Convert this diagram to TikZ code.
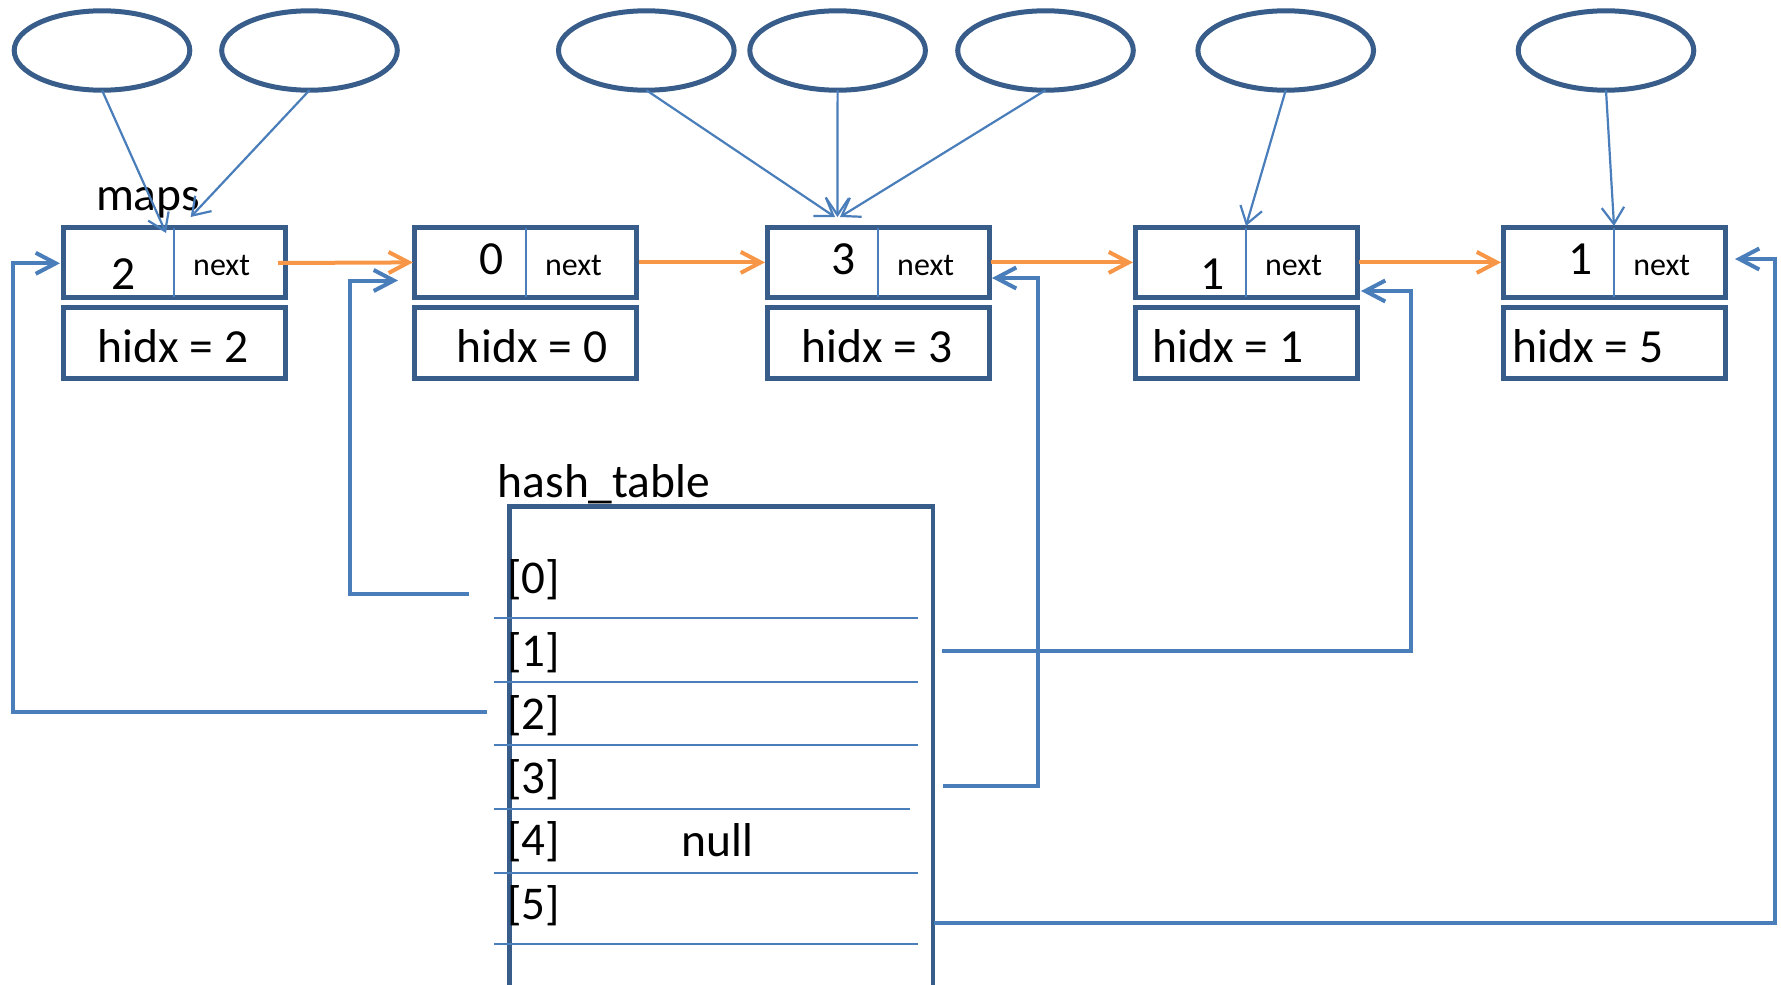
\documentclass[tikz,border=0pt]{standalone}
\usepackage{fontspec}
\setmainfont{Carlito}
\usetikzlibrary{arrows.meta,shapes.geometric}
\definecolor{outline}{HTML}{385D8A}
\definecolor{link}{HTML}{4A7EBB}
\definecolor{nextc}{HTML}{F79646}
\begin{document}
\begin{tikzpicture}[x=1pt,y=-1pt,
  every node/.style={inner sep=0pt, outer sep=0pt},
  owner/.style={draw=outline, line width=5pt, ellipse, minimum width=175.6pt, minimum height=79.4pt},
  slot/.style={draw=outline, line width=5pt, minimum width=222pt, minimum height=69.5pt},
  info/.style={draw=outline, line width=5pt, minimum width=222pt, minimum height=71pt},
  big/.style={font=\fontsize{47.5}{57}\selectfont, anchor=base},
  small/.style={font=\fontsize{32}{38}\selectfont, anchor=base},
  rowlbl/.style={font=\fontsize{47}{56}\selectfont, anchor=base west},
  ref/.style={draw=link, line width=2.2pt, -{Straight Barb[length=16.6pt,width=22.4pt]}},
  bucket/.style={draw=link, line width=4pt, -{Straight Barb[length=20pt,width=21pt]}},
  chain/.style={draw=nextc, line width=4pt, -{Straight Barb[length=20pt,width=21pt]}},
  row/.style={draw=link, line width=2pt},
]
\useasboundingbox (0,0) rectangle (1781,985);

% owners (top row of ellipses)
\node[owner] (o1) at (102,50.5) {};
\node[owner] (o2) at (309.5,50.5) {};
\node[owner] (o3) at (646.3,50.5) {};
\node[owner] (o4) at (837.6,50.5) {};
\node[owner] (o5) at (1045.5,50.5) {};
\node[owner] (o6) at (1285.7,50.5) {};
\node[owner] (o7) at (1606,50.5) {};

% map entries: value/next slot above, hidx below
\foreach \i/\x in {1/174,2/525.9,3/878,4/1246,5/1614}{
  \node[slot] (s\i) at (\x,262.4) {};
  \node[info] (h\i) at (\x,342.5) {};
  \draw[row] (s\i.north) -- (s\i.south);
}

\node[big] (v1) at (124,289) {2};
\node[big] (v2) at (492,274.3) {0};
\node[big] (v3) at (844,274.3) {3};
\node[big] (v4) at (1213,289) {1};
\node[big] (v5) at (1581,274.3) {1};

\node[small] (n1) at (221.7,275) {next};
\node[small] (n2) at (573.5,275) {next};
\node[small] (n3) at (925.7,275) {next};
\node[small] (n4) at (1293.6,275) {next};
\node[small] (n5) at (1661.7,275) {next};

\node[big] (x1) at (173,362) {hidx = 2};
\node[big] (x2) at (532,362) {hidx = 0};
\node[big] (x3) at (877,362) {hidx = 3};
\node[big] (x4) at (1228,362) {hidx = 1};
\node[big] (x5) at (1588,362) {hidx = 5};

% hash table frame (runs off the bottom edge)
\draw[outline, line width=4.8pt] (509.7,985) -- (509.7,506.5) -- (933,506.5) -- (933,985);
\foreach \y/\xe in {618.3/918,682/918,745.3/918,809.3/910,873.3/918,944.3/918}
  \draw[row] (494,\y) -- (\xe,\y);

\node[big] (maps) at (148,210) {maps};
\node[big] (ht) at (604,497) {hash\_table};

\node[rowlbl] (r0) at (507,593) {[0]};
\node[rowlbl] (r1) at (507,666) {[1]};
\node[rowlbl] (r2) at (507,729) {[2]};
\node[rowlbl] (r3) at (507,793) {[3]};
\node[rowlbl] (r4) at (507,855) {[4]};
\node[rowlbl] (r5) at (507,919) {[5]};
\node[big] (nul) at (717.5,856) {null};

% owner pointers
\coordinate (p1) at (166,233);
\coordinate (p2) at (190.7,217);
\coordinate (p3) at (835,217);
\coordinate (p4) at (837.5,217);
\coordinate (p5) at (840,217);
\coordinate (p6) at (1246,226);
\coordinate (p7) at (1614,226);
\foreach \i in {1,...,7} \draw[ref] (o\i.south) -- (p\i);

% next chain
\draw[chain] (278,263) -- ([xshift=-2pt]s2.west);
\draw[chain] ([xshift=2pt]s2.east) -- ([xshift=-2pt]s3.west);
\draw[chain] ([xshift=2pt]s3.east) -- ([xshift=-2pt]s4.west);
\draw[chain] ([xshift=2pt]s4.east) -- ([xshift=-2pt]s5.west);

% bucket heads
\coordinate (k0) at (469,593.5);   \coordinate (t0) at (398,280.5);
\coordinate (k1) at (942,651);     \coordinate (t1) at (1361,291);
\coordinate (k2) at (486.7,711.7); \coordinate (t2) at (60,263.3);
\coordinate (k3) at (943,786);     \coordinate (t3) at (992,278);
\coordinate (k5) at (934,922.5);   \coordinate (t5) at (1735,259);
\draw[bucket] (k0) -- (349.5,593.5) |- (t0);
\draw[bucket] (k1) -- (1410.5,651) |- (t1);
\draw[bucket] (k2) -- (13,711.7) |- (t2);
\draw[bucket] (k3) -- (1038,786) |- (t3);
\draw[bucket] (k5) -- (1774.5,922.5) |- (t5);
\end{tikzpicture}
\end{document}
